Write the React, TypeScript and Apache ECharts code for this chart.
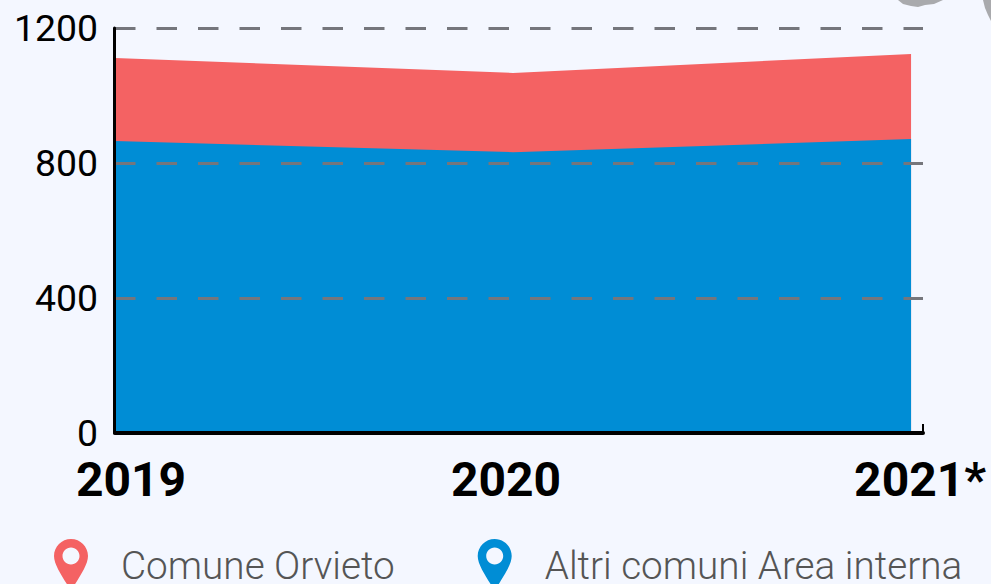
import React, { useEffect, useRef } from "react";
import * as echarts from "echarts";

const years = [2019, 2020, 2021];
const yearLabels: Record<number, string> = { 2019: "2019", 2020: "2020", 2021: "2021*" };
const altriComuni = [865, 832, 871];
const comuneOrvieto = [246, 235, 252];
const yTicks = [0, 400, 800, 1200];
const seriesNames = ["Altri comuni Area interna", "Comune Orvieto"];

const PIN =
  "path://M17 0C7.6 0 0 7.6 0 17C0 27 11 41 17 52C23 41 34 27 34 17C34 7.6 26.4 0 17 0ZM17 8.5C21.7 8.5 25.5 12.3 25.5 17C25.5 21.7 21.7 25.5 17 25.5C12.3 25.5 8.5 21.7 8.5 17C8.5 12.3 12.3 8.5 17 8.5Z";

const RED = "#f46263";
const BLUE = "#008dd5";
const FONT = "Roboto";

export default function App() {
  const ref = useRef<HTMLDivElement>(null);
  useEffect(() => {
    const chart = echarts.init(ref.current!, undefined, { renderer: "svg" });
    chart.setOption({
      animation: false,
      backgroundColor: "#f4f7ff",
      grid: { left: 115, right: 68, top: 28, bottom: 151 },
      legend: {
        left: 54,
        top: 539,
        padding: 0,
        itemWidth: 34,
        itemHeight: 52,
        itemGap: 83,
        data: [
          { name: seriesNames[1], icon: PIN, itemStyle: { color: RED } },
          { name: seriesNames[0], icon: PIN, itemStyle: { color: BLUE } },
        ],
        textStyle: {
          fontFamily: FONT,
          fontWeight: 300,
          fontSize: 38.7,
          lineHeight: 36,
          color: "#555555",
          padding: [0, 0, 0, 28],
        },
      },
      xAxis: {
        type: "value",
        min: 2019,
        max: 2021.03,
        splitLine: { show: false },
        axisLine: { show: true, lineStyle: { color: "#000", width: 4 } },
        axisTick: {
          show: true,
          inside: true,
          length: 9,
          customValues: [2021.03],
          lineStyle: { color: "#000", width: 2 },
        },
        axisLabel: {
          customValues: years,
          margin: 25,
          hideOverlap: false,
          showMinLabel: true,
          showMaxLabel: true,
          fontFamily: FONT,
          formatter: (v: number) => {
            const y = Math.round(v);
            return `{y${y}|${yearLabels[y]}}`;
          },
          rich: {
            y2019: { fontFamily: FONT, fontSize: 48, lineHeight: 42, fontWeight: 700, color: "#000", padding: [0, 0, 0, 32] },
            y2020: { fontFamily: FONT, fontSize: 48, lineHeight: 42, fontWeight: 700, color: "#000", padding: [0, 14, 0, 0] },
            y2021: { fontFamily: FONT, fontSize: 48, lineHeight: 42, fontWeight: 700, color: "#000", padding: [0, 0, 0, 18] },
          },
        },
      },
      yAxis: {
        type: "value",
        min: 0,
        max: 1200,
        interval: 400,
        offset: 1,
        axisLine: { show: true, lineStyle: { color: "#000", width: 3 } },
        axisTick: { show: false },
        axisLabel: {
          customValues: yTicks,
          fontFamily: FONT,
          fontSize: 37.4,
          lineHeight: 30,
          color: "#000",
          margin: 16,
          padding: [2, 0, 0, 0],
          formatter: (v: number) => String(v),
        },
        splitLine: {
          show: true,
          lineStyle: { color: "#75767c", width: 3, type: [20.5, 21] },
        },
      },
      series: [
        {
          name: seriesNames[1],
          type: "line",
          z: -2,
          symbol: "none",
          lineStyle: { width: 0 },
          itemStyle: { color: RED },
          areaStyle: { color: RED, opacity: 1 },
          data: years.map((y, i) => [y, altriComuni[i] + comuneOrvieto[i]]),
        },
        {
          name: seriesNames[0],
          type: "line",
          z: -1,
          symbol: "none",
          lineStyle: { width: 0 },
          itemStyle: { color: BLUE },
          areaStyle: { color: BLUE, opacity: 1 },
          data: years.map((y, i) => [y, altriComuni[i]]),
        },
      ],
      graphic: [
        {
          type: "polygon",
          silent: true,
          shape: { points: [[898, 0], [903, 4], [911, 6], [918, 7], [925, 5], [934, 4], [943, 0]] },
          style: { fill: "#a9aaad" },
        },
        {
          type: "polygon",
          silent: true,
          shape: { points: [[983, 0], [985, 8], [988, 15], [991, 21], [991, 0]] },
          style: { fill: "#a9aaad" },
        },
      ],
    });
    return () => chart.dispose();
  }, []);
  return (
    <div
      ref={ref}
      style={{ position: "absolute", left: 0, top: 0, width: 991, height: 584, overflow: "hidden" }}
    />
  );
}
